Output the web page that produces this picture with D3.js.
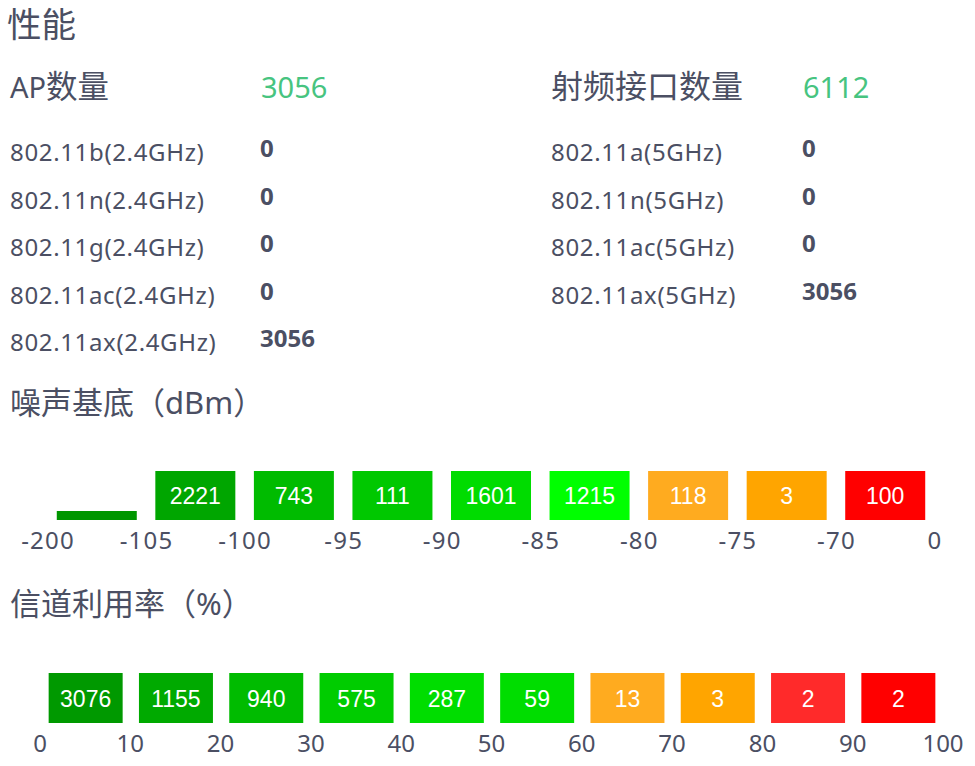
<!DOCTYPE html>
<html>
<head>
<meta charset="utf-8">
<script src="https://cdn.jsdelivr.net/npm/d3@7"></script>
<style>
  html, body { margin: 0; padding: 0; background: #fff; }
  svg text { font-family: "Noto Sans", "Noto Sans CJK SC", sans-serif; }
</style>
</head>
<body>
<svg id="chart" width="975" height="766"></svg>
<script>
// ---------- data ----------
const pageTitle = "性能";
const apTitleLatin = "AP";
const apTitleCjk = "数量";
const apTotal = 3056;
const radioTitle = "射频接口数量";
const radioTotal = 6112;

const apModes = ["802.11b(2.4GHz)", "802.11n(2.4GHz)", "802.11g(2.4GHz)", "802.11ac(2.4GHz)", "802.11ax(2.4GHz)"];
const apCounts = [0, 0, 0, 0, 3056];

const radioModes = ["802.11a(5GHz)", "802.11n(5GHz)", "802.11ac(5GHz)", "802.11ax(5GHz)"];
const radioCounts = [0, 0, 0, 3056];

const noiseTitle = "噪声基底（dBm）";
const noiseTicks = ["-200", "-105", "-100", "-95", "-90", "-85", "-80", "-75", "-70", "0"];
const noiseCounts = [0, 2221, 743, 111, 1601, 1215, 118, 3, 100];
const noiseColors = ["#009600", "#00a600", "#00bb00", "#00c800", "#00dc00", "#00ff00", "#ffab1f", "#ffa500", "#ff0000"];

const chanTitle = "信道利用率（%）";
const chanTicks = [0, 10, 20, 30, 40, 50, 60, 70, 80, 90, 100];
const chanCounts = [3076, 1155, 940, 575, 287, 59, 13, 3, 2, 2];
const chanColors = ["#009900", "#00aa00", "#00bb00", "#00cc00", "#00dd00", "#00dd00", "#ffab1f", "#ffa500", "#ff2a2a", "#ff0000"];

// ---------- drawing ----------
const textColor = "#4b4f63";
const green = "#47c480";
const svg = d3.select("#chart");

svg.append("text").attr("x", 7).attr("y", 37).attr("font-size", 34.5)
  .attr("fill", textColor).text(pageTitle);

// headers
const apHead = svg.append("text").attr("x", 10).attr("y", 98).attr("fill", textColor);
apHead.append("tspan").attr("font-size", 29).text(apTitleLatin);
apHead.append("tspan").attr("font-size", 31.5).text(apTitleCjk);
svg.append("text").attr("x", 261).attr("y", 98).attr("font-size", 29)
  .attr("fill", green).text(apTotal);
svg.append("text").attr("x", 551).attr("y", 98).attr("font-size", 32)
  .attr("fill", textColor).text(radioTitle);
svg.append("text").attr("x", 803).attr("y", 98).attr("font-size", 29)
  .attr("fill", green).text(radioTotal);

const rowY = d3.scaleLinear().domain([0, 1]).range([161, 208.5]);
function rows(x, vx, labels, values) {
  const g = svg.append("g");
  g.selectAll("text.lbl").data(labels).join("text").attr("class", "lbl")
    .attr("x", x).attr("y", (d, i) => rowY(i)).attr("font-size", 24)
    .attr("letter-spacing", 0.65)
    .attr("fill", textColor).text(d => d);
  g.selectAll("text.val").data(values).join("text").attr("class", "val")
    .attr("x", vx).attr("y", (d, i) => rowY(i) - 4).attr("font-size", 24)
    .attr("font-weight", "bold").attr("fill", textColor).text(d => d);
}
rows(10, 260, apModes, apCounts);
rows(551, 802, radioModes, radioCounts);

// ---- noise floor ----
svg.append("text").attr("x", 10).attr("y", 414).attr("font-size", 31)
  .attr("fill", textColor).text(noiseTitle);

const xn = d3.scaleLinear().domain([0, noiseTicks.length - 1]).range([47.5, 934.5]);
const nBarW = 80;
const nTop = 471, nBottom = 520, nThin = 9;
const nCenter = i => (xn(i) + xn(i + 1)) / 2;
const ng = svg.append("g");
ng.selectAll("rect").data(noiseCounts).join("rect")
  .attr("x", (d, i) => nCenter(i) - nBarW / 2)
  .attr("y", d => d > 0 ? nTop : nBottom - nThin)
  .attr("width", nBarW)
  .attr("height", d => d > 0 ? nBottom - nTop : nThin)
  .attr("fill", (d, i) => noiseColors[i]);
ng.selectAll("text").data(noiseCounts).join("text")
  .attr("x", (d, i) => nCenter(i))
  .attr("y", (nTop + nBottom) / 2 + 8.5)
  .attr("text-anchor", "middle")
  .style("font-family", "'Liberation Sans', Arial, sans-serif")
  .attr("font-size", 23).attr("fill", "#fff")
  .text(d => d > 0 ? d : "");

const nAxis = d3.axisBottom(xn).tickValues(d3.range(noiseTicks.length))
  .tickFormat(i => noiseTicks[i]).tickSize(0).tickPadding(0);
const nax = svg.append("g").attr("transform", "translate(0,532)").call(nAxis);
nax.select(".domain").remove();
nax.selectAll("text").attr("font-size", 24).attr("fill", textColor)
  .attr("letter-spacing", 1.2)
  .style("font-family", "'Noto Sans', sans-serif").attr("dy", "0.71em");

// ---- channel utilization ----
svg.append("text").attr("x", 10).attr("y", 615).attr("font-size", 31)
  .attr("fill", textColor).text(chanTitle);

const xc = d3.scaleLinear().domain([0, 100]).range([39.5, 942.5]);
const cBarW = 74;
const cTop = 673, cBottom = 723;
const cCenter = i => (xc(chanTicks[i]) + xc(chanTicks[i + 1])) / 2 + 1;
const cg = svg.append("g");
cg.selectAll("rect").data(chanCounts).join("rect")
  .attr("x", (d, i) => cCenter(i) - cBarW / 2)
  .attr("y", cTop)
  .attr("width", cBarW)
  .attr("height", cBottom - cTop)
  .attr("fill", (d, i) => chanColors[i]);
cg.selectAll("text").data(chanCounts).join("text")
  .attr("x", (d, i) => cCenter(i))
  .attr("y", (cTop + cBottom) / 2 + 8.5)
  .attr("text-anchor", "middle")
  .style("font-family", "'Liberation Sans', Arial, sans-serif")
  .attr("font-size", 23).attr("fill", "#fff")
  .text(d => d);

const cAxis = d3.axisBottom(xc).tickValues(chanTicks).tickFormat(d3.format("d"))
  .tickSize(0).tickPadding(0);
const cax = svg.append("g").attr("transform", "translate(0,735)").call(cAxis);
cax.select(".domain").remove();
cax.selectAll("text").attr("font-size", 24).attr("fill", textColor)
  .style("font-family", "'Noto Sans', sans-serif").attr("dy", "0.71em");
</script>
</body>
</html>
